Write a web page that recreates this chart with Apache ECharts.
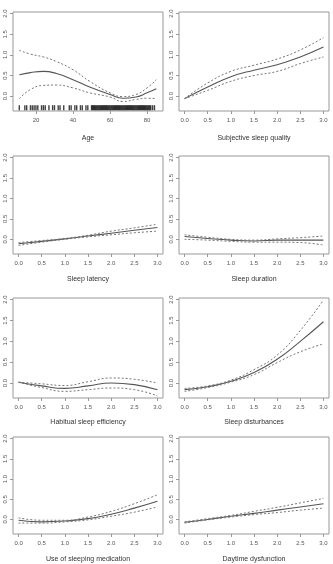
<!DOCTYPE html>
<html>
<head>
<meta charset="utf-8">
<script src="https://cdn.jsdelivr.net/npm/echarts@6/dist/echarts.min.js"></script>
<style>
html, body { margin: 0; padding: 0; background: #fff; }
#main { width: 333px; height: 564px; }
</style>
</head>
<body>
<div id="main"></div>
<script>
var myChart = echarts.init(document.getElementById('main'));

// x values
var ageX = [11, 17, 24, 31, 40, 49, 60, 67, 74, 80, 85];
var scoreX = [0, 0.5, 1, 1.5, 2, 2.5, 3];

// Age
var ageFit = [0.52, 0.57, 0.60, 0.55, 0.40, 0.22, 0.04, -0.05, -0.02, 0.08, 0.18];
var ageUp = [1.11, 1.02, 0.95, 0.84, 0.64, 0.36, 0.08, -0.01, 0.04, 0.20, 0.40];
var ageLow = [-0.06, 0.16, 0.26, 0.27, 0.20, 0.08, -0.02, -0.13, -0.08, -0.05, -0.06];
// rug of observed ages
var ageRug = [11, 14, 15, 17, 18, 19, 20, 21, 23, 24, 25, 27, 29, 30, 32, 33, 35, 38, 39, 41, 42, 44, 45, 47, 48,
  50, 50.5, 51, 51.5, 52, 52.5, 53, 53.5, 54, 54.5, 55, 55.5, 56, 56.5, 57, 57.5, 58, 58.5, 59, 59.5, 60, 60.5,
  61, 61.5, 62, 62.5, 63, 63.5, 64, 64.5, 65, 65.5, 66, 66.5, 67, 67.5, 68, 68.5, 69, 69.5, 70, 70.5, 71, 71.5,
  72, 72.5, 73, 73.5, 74, 74.5, 75, 75.5, 76, 76.5, 77, 77.5, 78, 78.5, 79, 79.5, 80, 80.5, 81, 81.5, 82, 83, 84];

// Subjective sleep quality
var sqFit = [-0.06, 0.22, 0.47, 0.63, 0.76, 0.95, 1.19];
var sqUp = [-0.06, 0.32, 0.60, 0.75, 0.90, 1.12, 1.42];
var sqLow = [-0.06, 0.14, 0.36, 0.50, 0.60, 0.79, 0.95];

// Sleep latency
var slFit = [-0.11, -0.05, 0.01, 0.08, 0.15, 0.22, 0.29];
var slUp = [-0.08, -0.03, 0.02, 0.10, 0.20, 0.28, 0.37];
var slLow = [-0.15, -0.07, 0.00, 0.06, 0.11, 0.16, 0.20];

// Sleep duration
var sdFit = [0.07, 0.02, -0.02, -0.04, -0.02, -0.02, -0.02];
var sdUp = [0.11, 0.05, 0.00, -0.02, 0.01, 0.04, 0.08];
var sdLow = [0.00, -0.02, -0.05, -0.07, -0.07, -0.08, -0.14];

// Habitual sleep efficiency
var heFit = [0.02, -0.07, -0.13, -0.07, 0.00, -0.04, -0.16];
var heUp = [0.02, -0.02, -0.06, 0.03, 0.12, 0.09, 0.00];
var heLow = [0.02, -0.11, -0.20, -0.16, -0.12, -0.16, -0.31];

// Sleep disturbances
var dsFit = [-0.16, -0.09, 0.04, 0.25, 0.57, 1.00, 1.47];
var dsUp = [-0.13, -0.07, 0.07, 0.32, 0.67, 1.26, 1.99];
var dsLow = [-0.20, -0.11, 0.02, 0.20, 0.49, 0.75, 0.94];

// Use of sleeping medication
var smFit = [-0.02, -0.06, -0.04, 0.02, 0.13, 0.28, 0.45];
var smUp = [0.04, -0.02, -0.02, 0.06, 0.20, 0.39, 0.61];
var smLow = [-0.09, -0.09, -0.06, -0.01, 0.08, 0.18, 0.31];

// Daytime dysfunction
var ddFit = [-0.07, 0.00, 0.08, 0.15, 0.23, 0.31, 0.39];
var ddUp = [-0.06, 0.02, 0.10, 0.20, 0.30, 0.41, 0.52];
var ddLow = [-0.09, -0.01, 0.06, 0.12, 0.17, 0.23, 0.28];

var yTicks = [0, 0.5, 1, 1.5, 2];
var scoreTicks = [0, 0.5, 1, 1.5, 2, 2.5, 3];
var ageTicks = [20, 40, 60, 80];

var panels = [
  { name: 'Age', x: ageX, fit: ageFit, up: ageUp, low: ageLow },
  { name: 'Subjective sleep quality', x: scoreX, fit: sqFit, up: sqUp, low: sqLow },
  { name: 'Sleep latency', x: scoreX, fit: slFit, up: slUp, low: slLow },
  { name: 'Sleep duration', x: scoreX, fit: sdFit, up: sdUp, low: sdLow },
  { name: 'Habitual sleep efficiency', x: scoreX, fit: heFit, up: heUp, low: heLow },
  { name: 'Sleep disturbances', x: scoreX, fit: dsFit, up: dsUp, low: dsLow },
  { name: 'Use of sleeping medication', x: scoreX, fit: smFit, up: smUp, low: smLow },
  { name: 'Daytime dysfunction', x: scoreX, fit: ddFit, up: ddUp, low: ddLow }
];

var colLeft = [13, 179];
var rowTop = [12, 156, 298, 437];
var rowH = [99, 98, 100, 101];
var rowGap = [24, 22, 21, 22];

var grid = [], xAxis = [], yAxis = [], series = [];
var font = 'Liberation Sans, Arial, sans-serif';

function pairs(xs, ys) {
  return xs.map(function (x, i) { return [x, ys[i]]; });
}

panels.forEach(function (p, i) {
  var r = Math.floor(i / 2), c = i % 2;
  var isAge = i === 0;
  grid.push({
    left: colLeft[c], top: rowTop[r], width: 150, height: rowH[r],
    show: true, borderColor: '#999', borderWidth: 1, backgroundColor: 'transparent'
  });
  xAxis.push({
    gridIndex: i, type: 'value',
    min: isAge ? 7.6 : -0.12, max: isAge ? 88.6 : 3.12,
    name: p.name, nameLocation: 'middle', nameGap: rowGap[r],
    nameTextStyle: { fontSize: 7, color: '#333', fontFamily: font },
    axisLine: { show: false, onZero: false },
    axisTick: { show: true, length: 3, lineStyle: { color: '#999' },
      customValues: isAge ? ageTicks : scoreTicks },
    axisLabel: { fontSize: 6, color: '#555', fontFamily: font, margin: 6,
      customValues: isAge ? ageTicks : scoreTicks,
      formatter: function (v) { return isAge ? String(v) : v.toFixed(1); } },
    splitLine: { show: false }
  });
  yAxis.push({
    gridIndex: i, type: 'value', min: -0.36, max: 2.04,
    axisLine: { show: false, onZero: false },
    axisTick: { show: true, length: 3, lineStyle: { color: '#999' }, customValues: yTicks },
    axisLabel: { fontSize: 6, color: '#555', fontFamily: font, rotate: 90, margin: 5,
      customValues: yTicks,
      formatter: function (v) { return v.toFixed(1); } },
    splitLine: { show: false }
  });
  var base = { type: 'line', xAxisIndex: i, yAxisIndex: i, smooth: true, showSymbol: false, silent: true, animation: false };
  series.push(Object.assign({}, base, { data: pairs(p.x, p.fit), lineStyle: { color: '#555', width: 1.1 } }));
  series.push(Object.assign({}, base, { data: pairs(p.x, p.up), lineStyle: { color: '#777', width: 1, type: [2, 2] } }));
  series.push(Object.assign({}, base, { data: pairs(p.x, p.low), lineStyle: { color: '#777', width: 1, type: [2, 2] } }));
});

var rugY = -0.28;
series.push({
  type: 'scatter', xAxisIndex: 0, yAxisIndex: 0, silent: true, animation: false,
  symbol: 'rect', symbolSize: [1.4, 5],
  itemStyle: { color: '#111' },
  data: ageRug.map(function (a) { return [a, rugY]; })
});

option = {
  backgroundColor: '#fff',
  grid: grid,
  xAxis: xAxis,
  yAxis: yAxis,
  series: series
};

myChart.setOption(option);
</script>
</body>
</html>
